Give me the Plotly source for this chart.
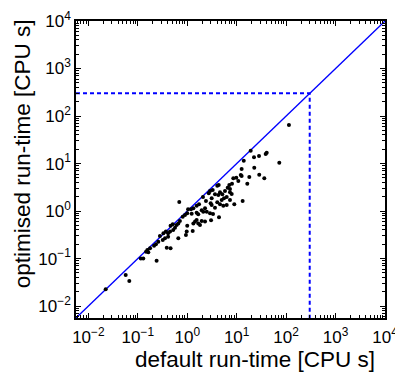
import plotly.graph_objects as go

# default run-time [CPU s] (x) vs optimised run-time [CPU s] (y)
default_rt = [114, 19.2, 40.5, 38.6, 28.3, 22.4, 13.9, 72.8, 22.7, 12.6,
              28.6, 36.2, 12.1, 12.6, 18.0, 9.83, 8.55, 10.8, 16.4, 8.04,
              7.09, 4.33, 4.05, 6.58, 7.32, 3.27, 2.89, 2.72, 4.60, 5.12,
              5.80, 7.32, 7.93, 3.64, 4.25, 6.28, 5.54, 3.12, 4.98, 7.32,
              13.2, 0.69, 4.05, 4.60, 2.98, 3.12, 1.73, 1.55, 6.28, 5.36,
              8.95, 2.29, 3.64, 1.33, 1.19, 1.96, 2.11, 2.48, 2.89, 1.55,
              1.67, 1.00, 0.90, 0.81, 1.23, 4.39, 3.03, 1.55, 1.44, 1.33,
              1.67, 1.81, 1.96, 2.29, 0.71, 0.66, 0.61, 0.51, 0.46, 1.00,
              0.565, 0.52, 0.45, 0.41, 0.37, 0.33, 0.975, 1.29, 0.94, 0.41,
              0.355, 0.32, 0.66, 0.26, 0.233, 0.213, 0.385, 0.46, 0.177, 0.156,
              0.147, 0.163, 0.129, 0.115, 0.24, 0.0224, 0.0569, 0.0673,
              2.08, 2.39, 1.04, 3.32, 0.28]
optimised_rt = [64.7, 18.7, 16.9, 15.9, 14.4, 13.5, 11.5, 10.4, 8.18, 7.69,
                5.83, 4.90, 5.74, 5.47, 5.21, 5.04, 4.90, 4.30, 3.77, 3.77,
                3.54, 3.54, 3.42, 3.10, 2.92, 2.78, 2.65, 2.37, 2.48, 2.25,
                2.65, 2.48, 2.29, 2.25, 2.18, 1.98, 1.86, 1.86, 1.71, 1.71,
                1.63, 1.55, 1.53, 1.39, 1.46, 1.34, 1.39, 1.30, 1.34, 1.30,
                1.39, 1.15, 1.18, 1.15, 1.09, 1.04, 0.97, 0.97, 0.90, 0.925,
                0.855, 0.90, 0.83, 0.76, 0.88, 0.74, 0.64, 0.65, 0.60, 0.55,
                0.55, 0.51, 0.62, 0.60, 0.62, 0.55, 0.51, 0.53, 0.49, 0.49,
                0.447, 0.40, 0.37, 0.34, 0.37, 0.34, 0.37, 0.38, 0.314, 0.289,
                0.267, 0.246, 0.267, 0.227, 0.20, 0.187, 0.17, 0.165, 0.165, 0.152,
                0.14, 0.136, 0.101, 0.101, 0.090, 0.0226, 0.0452, 0.0338,
                1.98, 1.63, 1.09, 0.87, 0.30]

axis_min = 10 ** -2.25
axis_max = 1e4
cutoff = 300
tick_vals = [1e-2, 1e-1, 1e0, 1e1, 1e2, 1e3, 1e4]
tick_text = ["10<sup>−2</sup>", "10<sup>−1</sup>", "10<sup>0</sup>", "10<sup>1</sup>",
             "10<sup>2</sup>", "10<sup>3</sup>", "10<sup>4</sup>"]
minor_vals = [m * 10 ** e for e in range(-3, 4) for m in range(2, 10)]

font_family = "Liberation Sans, Arial, sans-serif"

fig = go.Figure()
fig.add_trace(go.Scatter(x=[axis_min, axis_max], y=[axis_min, axis_max], mode="lines",
                         line=dict(color="#0000FF", width=1.3), hoverinfo="skip"))
fig.add_trace(go.Scatter(x=[axis_min, cutoff, cutoff], y=[cutoff, cutoff, axis_min],
                         mode="lines", line=dict(color="#0000FF", width=2, dash="4px,3px")))
fig.add_trace(go.Scatter(x=default_rt, y=optimised_rt, mode="markers",
                         marker=dict(color="black", size=4)))

axis_common = dict(
    type="log", showgrid=False, zeroline=False, showline=True, linecolor="black",
    linewidth=1.5, mirror="allticks", ticks="inside", ticklen=5, tickcolor="black",
    tickwidth=1, tickmode="array", tickvals=tick_vals, ticktext=tick_text,
    tickfont=dict(family=font_family, size=17, color="black"),
    minor=dict(ticks="inside", ticklen=3, tickcolor="black", tickmode="array",
               tickvals=minor_vals, showgrid=False),
    range=[-2.25, 4], automargin=False,
)
fig.update_xaxes(**axis_common, ticklabelstandoff=3)
fig.update_yaxes(**axis_common)

fig.add_annotation(text="default run-time [CPU s]", xref="paper", yref="paper",
                   x=0.579, y=-0.14, xanchor="center", yanchor="middle", showarrow=False,
                   font=dict(family=font_family, size=22.5, color="black"))
fig.add_annotation(text="optimised run-time [CPU s]", xref="paper", yref="paper",
                   x=-0.172, y=0.554, xanchor="center", yanchor="middle", showarrow=False,
                   textangle=-90, font=dict(family=font_family, size=22.5, color="black"))

# page body adds an 8px offset, so the figure is sized to fit the window
fig.update_layout(width=395, height=364, margin=dict(l=68, r=18, t=13, b=54),
                  paper_bgcolor="white", plot_bgcolor="white", showlegend=False)
fig.write_html("out.html")
